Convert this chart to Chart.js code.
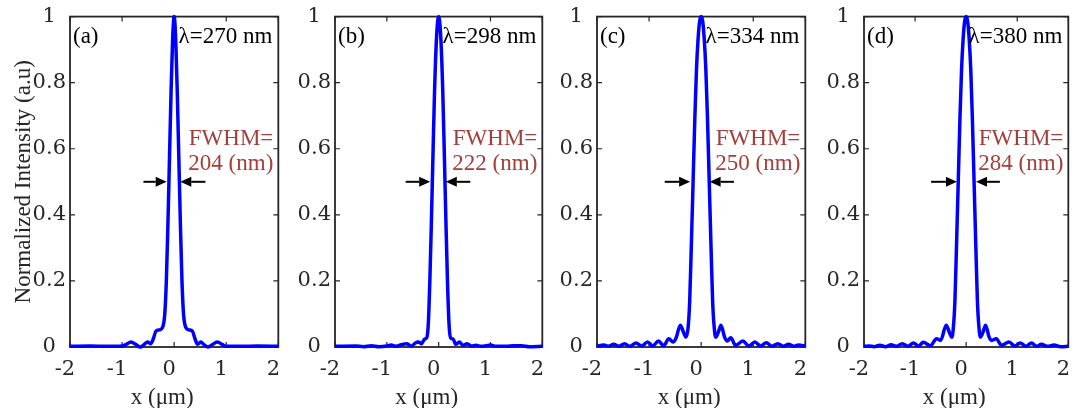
<!DOCTYPE html>
<html><head><meta charset="utf-8">
<script src="https://cdn.jsdelivr.net/npm/chart.js@4.4.1/dist/chart.umd.min.js"></script>
<style>
html,body{margin:0;padding:0;background:#fff;}
#wrap{position:relative;width:1085px;height:408px;overflow:hidden;background:#fff;}
canvas{position:absolute;top:0;}
</style></head><body>
<div id="wrap"></div>
<script>
// ---------------- data ----------------
const panelLabels = ['(a)', '(b)', '(c)', '(d)'];
const wavelengthLabels = ['λ=270 nm', 'λ=298 nm', 'λ=334 nm', 'λ=380 nm'];
const fwhmTitle = 'FWHM=';
const fwhmValues = ['204 (nm)', '222 (nm)', '250 (nm)', '284 (nm)'];
const xAxisTitle = 'x (μm)';
const yAxisTitle = 'Normalized Intensity (a.u)';
const xTickStep = 1;
const yTickStep = 0.2;

const xA = [-2.0,-1.6,-1.3,-1.1,-1.0,-0.92,-0.83,-0.74,-0.65,-0.58,-0.51,-0.45,-0.40,-0.35,-0.28,-0.22,-0.18,-0.15,-0.12,-0.09,-0.06,-0.03,
  0.0,
  0.03,0.06,0.09,0.12,0.15,0.18,0.22,0.28,0.35,0.40,0.45,0.51,0.58,0.65,0.72,0.83,0.92,1.0,1.1,1.3,1.6,2.0];
const yA = [0.002,0.003,0.002,0.002,0.003,0.008,0.015,0.008,0.0,0.007,0.015,0.01,0.025,0.048,0.052,0.06,0.1,0.2,0.37,0.57,0.77,0.93,
  1.0,
  0.93,0.77,0.57,0.37,0.2,0.1,0.06,0.052,0.048,0.025,0.008,0.015,0.006,0.0,0.006,0.015,0.008,0.002,0.002,0.002,0.003,0.002];

const xB = [-2.0,-1.6,-1.45,-1.3,-1.15,-1.0,-0.92,-0.82,-0.72,-0.62,-0.52,-0.45,-0.39,-0.33,-0.27,-0.23,-0.20,-0.17,-0.14,-0.11,-0.08,-0.04,
  0.0,
  0.04,0.08,0.11,0.14,0.17,0.20,0.23,0.28,0.33,0.40,0.47,0.55,0.63,0.72,0.82,0.92,1.0,1.1,1.3,1.45,1.6,1.75,2.0];
const yB = [0.002,0.003,0.001,0.004,0.001,0.003,0.006,0.002,0.007,0.01,0.003,0.012,0.015,0.01,0.024,0.028,0.07,0.2,0.38,0.58,0.77,0.94,
  1.0,
  0.94,0.77,0.58,0.38,0.2,0.07,0.028,0.024,0.008,0.015,0.005,0.01,0.003,0.005,0.002,0.004,0.006,0.002,0.002,0.004,0.004,0.001,0.002];

const xC = [-2.0,-1.87,-1.78,-1.68,-1.58,-1.47,-1.37,-1.25,-1.14,-1.03,-0.93,-0.82,-0.72,-0.62,-0.54,-0.48,-0.40,-0.34,-0.29,-0.25,-0.22,-0.19,-0.155,-0.12,-0.09,-0.06,-0.03,
  0.0,
  0.03,0.06,0.09,0.12,0.155,0.19,0.22,0.25,0.28,0.33,0.38,0.45,0.50,0.57,0.66,0.80,0.92,1.03,1.14,1.25,1.36,1.47,1.58,1.68,1.78,1.87,2.0];
const yC = [0.002,0.006,0.002,0.008,0.002,0.01,0.002,0.012,0.003,0.015,0.003,0.018,0.004,0.025,0.015,0.028,0.066,0.045,0.03,0.06,0.14,0.3,0.5,0.7,0.84,0.93,0.985,
  1.0,
  0.985,0.93,0.84,0.7,0.5,0.3,0.14,0.06,0.03,0.045,0.066,0.03,0.018,0.028,0.005,0.018,0.003,0.015,0.003,0.013,0.002,0.01,0.002,0.008,0.002,0.006,0.002];

const xD = [-2.0,-1.9,-1.8,-1.69,-1.58,-1.47,-1.36,-1.25,-1.14,-1.03,-0.93,-0.84,-0.70,-0.58,-0.50,-0.39,-0.33,-0.28,-0.25,-0.22,-0.19,-0.155,-0.12,-0.09,-0.06,-0.03,
  0.0,
  0.03,0.06,0.09,0.12,0.155,0.19,0.22,0.25,0.28,0.33,0.38,0.45,0.50,0.59,0.69,0.84,0.95,1.06,1.17,1.28,1.38,1.47,1.60,1.72,1.85,2.0];
const yD = [0.002,0.003,0.001,0.005,0.001,0.007,0.002,0.01,0.002,0.012,0.003,0.014,0.004,0.025,0.02,0.066,0.045,0.03,0.06,0.14,0.3,0.5,0.7,0.84,0.93,0.985,
  1.0,
  0.985,0.93,0.84,0.7,0.5,0.3,0.14,0.06,0.03,0.045,0.066,0.03,0.02,0.025,0.005,0.015,0.003,0.012,0.002,0.012,0.002,0.008,0.002,0.006,0.001,0.002];

// FWHM arrows (µm) at the half-maximum level
const arrowLevel = 0.5;
const arrowTailLeft  = [-0.59, -0.636, -0.70, -0.687];
const arrowTipLeft   = [-0.144, -0.164, -0.212, -0.181];
const arrowTipRight  = [0.118, 0.138, 0.163, 0.193];
const arrowTailRight = [0.60, 0.61, 0.63, 0.66];

const seriesX = [xA, xB, xC, xD];
const seriesY = [yA, yB, yC, yD];

// ---------------- layout / style ----------------
const geom = [
  {L: 70,  R: 283,  yw: 70, padR: 12},
  {L: 335, R: 547,  yw: 40, padR: 12},
  {L: 597, R: 810,  yw: 40, padR: 12},
  {L: 864, R: 1078, yw: 40, padR: 7}
];
const AX = '#262626';
const RED = '#A23F3A';
const tickFont = {family: 'DejaVu Serif', size: 21};
const annFont = '23px "Liberation Serif"';

const decoPlugin = {
  id: 'deco',
  beforeDatasetsDraw(chart, args, o) {
    const {ctx, chartArea: a, scales: {x, y}} = chart;
    ctx.save();
    ctx.strokeStyle = AX;
    ctx.lineWidth = 1.2;
    ctx.beginPath();
    x.ticks.forEach(t => {
      const px = x.getPixelForValue(t.value);
      ctx.moveTo(px, a.bottom); ctx.lineTo(px, a.bottom - 5);
      ctx.moveTo(px, a.top); ctx.lineTo(px, a.top + 5);
    });
    y.ticks.forEach(t => {
      const py = y.getPixelForValue(t.value);
      ctx.moveTo(a.left, py); ctx.lineTo(a.left + 5, py);
      ctx.moveTo(a.right, py); ctx.lineTo(a.right - 5, py);
    });
    ctx.stroke();
    ctx.lineWidth = 1.8;
    ctx.strokeRect(a.left, a.top, a.right - a.left, a.bottom - a.top);
    ctx.restore();
  },
  afterDatasetsDraw(chart, args, o) {
    const {ctx, chartArea: a, scales: {x, y}} = chart;
    const i = o.idx;
    ctx.save();
    ctx.font = annFont;
    ctx.textBaseline = 'alphabetic';
    ctx.fillStyle = '#000';
    ctx.textAlign = 'left';
    ctx.fillText(panelLabels[i], a.left + 3, a.top + 26);
    ctx.textAlign = 'right';
    ctx.fillText(wavelengthLabels[i], a.right - 6, a.top + 26);
    ctx.fillStyle = RED;
    ctx.fillText(fwhmTitle, a.right - 5, a.top + 128);
    ctx.fillText(fwhmValues[i], a.right - 5, a.top + 153);
    // arrows
    const py = y.getPixelForValue(arrowLevel);
    ctx.strokeStyle = '#000'; ctx.fillStyle = '#000'; ctx.lineWidth = 2;
    const arrow = (xt, xh) => {
      const t = x.getPixelForValue(xt), h = x.getPixelForValue(xh);
      const d = Math.sign(h - t), hl = 11, hw = 5;
      ctx.beginPath(); ctx.moveTo(t, py); ctx.lineTo(h - d * hl, py); ctx.stroke();
      ctx.beginPath(); ctx.moveTo(h, py); ctx.lineTo(h - d * hl, py - hw); ctx.lineTo(h - d * hl, py + hw); ctx.closePath(); ctx.fill();
    };
    arrow(arrowTailLeft[i], arrowTipLeft[i]);
    arrow(arrowTailRight[i], arrowTipRight[i]);
    // x axis title
    ctx.fillStyle = AX;
    ctx.textAlign = 'center';
    ctx.fillText(xAxisTitle, (a.left + a.right) / 2 - 12, 404);
    ctx.restore();
  }
};

const fmtTick = v => String(Math.round(v * 10) / 10);

const wrap = document.getElementById('wrap');
geom.forEach((g, i) => {
  const cv = document.createElement('canvas');
  const w = g.yw + (g.R - g.L) + g.padR;
  cv.width = w; cv.height = 408;
  cv.style.left = (g.L - g.yw) + 'px';
  cv.style.width = w + 'px'; cv.style.height = '408px';
  wrap.appendChild(cv);
  const pts = seriesX[i].map((xv, k) => ({x: xv, y: seriesY[i][k]}));
  new Chart(cv, {
    type: 'line',
    data: {datasets: [{
      data: pts, borderColor: '#0000FF', borderWidth: 3.5, pointRadius: 0,
      cubicInterpolationMode: 'monotone', fill: false, clip: 6
    }]},
    plugins: [decoPlugin],
    options: {
      responsive: false, animation: false, devicePixelRatio: 1,
      layout: {padding: {top: 15, right: g.padR, left: 0, bottom: 0}},
      plugins: {legend: {display: false}, tooltip: {enabled: false}, deco: {idx: i}},
      scales: {
        x: {
          type: 'linear', min: -2, max: 2,
          grid: {display: false, drawTicks: false}, border: {display: false},
          ticks: {stepSize: xTickStep, color: AX, font: tickFont, padding: 10, labelOffset: -5, maxRotation: 0, autoSkip: false, callback: fmtTick},
          afterFit: s => { s.height = 61; }
        },
        y: {
          min: 0, max: 1,
          grid: {display: false, drawTicks: false}, border: {display: false},
          ticks: {stepSize: yTickStep, color: AX, font: tickFont, padding: 4, crossAlign: 'center', callback: fmtTick},
          title: {display: i === 0, text: yAxisTitle, color: AX,
                  font: {family: 'Liberation Serif', size: 23}, padding: {top: 10, bottom: 0}},
          afterFit: s => { s.width = g.yw; }
        }
      }
    }
  });
});
</script>
</body></html>
